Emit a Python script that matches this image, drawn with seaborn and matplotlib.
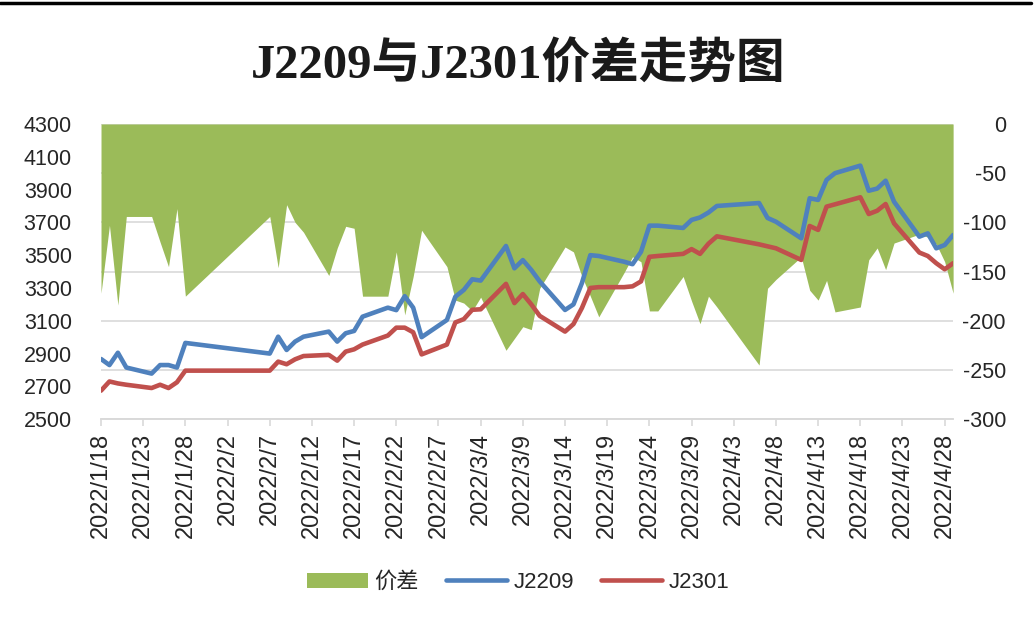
import pandas as pd
import seaborn as sns
import matplotlib.pyplot as plt
from matplotlib.patches import Patch
from matplotlib.lines import Line2D

# trading days, 2022
dates = ["01-18", "01-19", "01-20", "01-21", "01-24", "01-25", "01-26", "01-27", "01-28",
         "02-07", "02-08", "02-09", "02-10", "02-11", "02-14", "02-15", "02-16", "02-17",
         "02-18", "02-21", "02-22", "02-23", "02-24", "02-25", "02-28",
         "03-01", "03-02", "03-03", "03-04", "03-07", "03-08", "03-09", "03-10", "03-11",
         "03-14", "03-15", "03-16", "03-17", "03-18", "03-21", "03-22", "03-23", "03-24",
         "03-25", "03-28", "03-29", "03-30", "03-31",
         "04-01", "04-06", "04-07", "04-08", "04-11", "04-12", "04-13", "04-14", "04-15",
         "04-18", "04-19", "04-20", "04-21", "04-22", "04-25", "04-26", "04-27", "04-28", "04-29"]

j2209 = [2867, 2830, 2905, 2815, 2778, 2830, 2830, 2815, 2965,
         2900, 3003, 2922, 2973, 3003, 3034, 2973, 3024, 3038,
         3125, 3180, 3165, 3250, 3180, 3000, 3105,
         3247, 3288, 3353, 3345, 3556, 3420, 3470, 3410, 3340,
         3166, 3200, 3330, 3500, 3495, 3460, 3445, 3520, 3680,
         3680, 3666, 3715, 3730, 3760,
         3800, 3818, 3727, 3704, 3603, 3847, 3837, 3959, 4000,
         4046, 3893, 3906, 3954, 3826, 3613, 3633, 3542, 3562, 3623]

j2301 = [2674, 2730, 2718, 2710, 2690, 2710, 2690, 2725, 2796,
         2796, 2851, 2835, 2865, 2885, 2892, 2857, 2912, 2926,
         2955, 3010, 3058, 3058, 3030, 2895, 2955,
         3090, 3110, 3167, 3170, 3325, 3208, 3263, 3200, 3130,
         3034, 3080, 3178, 3300, 3305, 3305, 3310, 3340, 3490,
         3495, 3508, 3537, 3508, 3570,
         3615, 3566, 3554, 3542, 3471, 3678, 3654, 3796, 3810,
         3853, 3751, 3771, 3812, 3694, 3516, 3495, 3451, 3414, 3451]

spread = [-172, -103, -184, -94, -94, -120, -145, -86, -175,
          -94, -146, -82, -100, -110, -154, -126, -104, -106,
          -175, -175, -130, -194, -155, -108, -145,
          -179, -182, -190, -176, -230, -218, -206, -209, -167,
          -125, -130, -155, -175, -196, -151, -135, -140, -190,
          -190, -155, -180, -203, -175,
          -186, -245, -167, -158, -135, -169, -179, -159, -191,
          -186, -138, -126, -148, -121, -112, -115, -122, -140, -172]

GREEN = "#9BBB59"
BLUE = "#4F81BD"
RED = "#C0504D"
TXT = "#262626"

df = pd.DataFrame({
    "date": pd.to_datetime(["2022-" + d for d in dates]),
    "J2209": j2209,
    "J2301": j2301,
    "价差": spread,
})

sns.set_theme(style="white")
plt.rcParams["font.family"] = ["Liberation Sans", "Noto Sans CJK SC"]
plt.rcParams["axes.unicode_minus"] = False

fig = plt.figure(figsize=(10.36, 6.39), dpi=100)
ax = fig.add_axes([0.0975, 0.344, 0.8225, 0.462])
ax2 = ax.twinx()

# spread area on the secondary axis, behind the lines
ax2.fill_between(df["date"], df["价差"], 0, color=GREEN, linewidth=0, zorder=2)
ax2.set_ylim(-300, 0)
ax2.set_yticks(range(-300, 1, 50))
ax2.grid(axis="y", color="#d9d9d9", linewidth=1.2, zorder=0)
ax2.set_axisbelow(True)

sns.lineplot(data=df, x="date", y="J2209", ax=ax, color=BLUE, linewidth=3.3)
sns.lineplot(data=df, x="date", y="J2301", ax=ax, color=RED, linewidth=3.3)
ax.set_zorder(ax2.get_zorder() + 1)
ax.patch.set_visible(False)
ax.set_ylim(2500, 4300)
ax.set_yticks(range(2500, 4301, 200))
ax.set_xlabel("")
ax.set_ylabel("")
ax.grid(False)

ticks = pd.date_range("2022-01-18", "2022-04-28", freq="5D")
ax.set_xlim(pd.Timestamp("2022-01-18"), pd.Timestamp("2022-04-29"))
ax.set_xticks(ticks)
ax.set_xticklabels([f"{d.year}/{d.month}/{d.day}" for d in ticks], rotation=90)

for a in (ax, ax2):
    for s in ("top", "left", "right"):
        a.spines[s].set_visible(False)
    a.spines["bottom"].set_color("#d9d9d9")
    a.spines["bottom"].set_linewidth(1.2)

ax.tick_params(axis="x", bottom=True, length=5, color="#d9d9d9", width=1.2,
               labelsize=17, pad=5, labelcolor=TXT)
ax.tick_params(axis="y", left=False, labelsize=15.5, pad=15, labelcolor=TXT)
ax2.tick_params(axis="y", right=False, labelsize=15.5, pad=32, labelcolor=TXT)
for lab in ax2.get_yticklabels():
    lab.set_horizontalalignment("right")

fig.text(0.5, 0.898, "J2209与J2301价差走势图", ha="center", va="center",
         fontsize=35, fontweight="bold",
         family=["Liberation Serif", "Noto Sans CJK SC"], color="#1a1a1a")

# frame edge at the top of the chart
fig.add_artist(Line2D([0, 0.995], [0.995, 0.995], color="black", linewidth=2.5,
                      transform=fig.transFigure))

handles = [Patch(facecolor=GREEN, edgecolor="none"),
           Line2D([], [], color=BLUE, linewidth=3.3),
           Line2D([], [], color=RED, linewidth=3.3)]
fig.legend(handles, ["价差", "J2209", "J2301"], loc="center",
           bbox_to_anchor=(0.5, 0.088), ncol=3, frameon=False, fontsize=16,
           handlelength=2.75, handletextpad=0.3, columnspacing=1.2,
           labelcolor=TXT)

fig.savefig("out.png", dpi=100)
